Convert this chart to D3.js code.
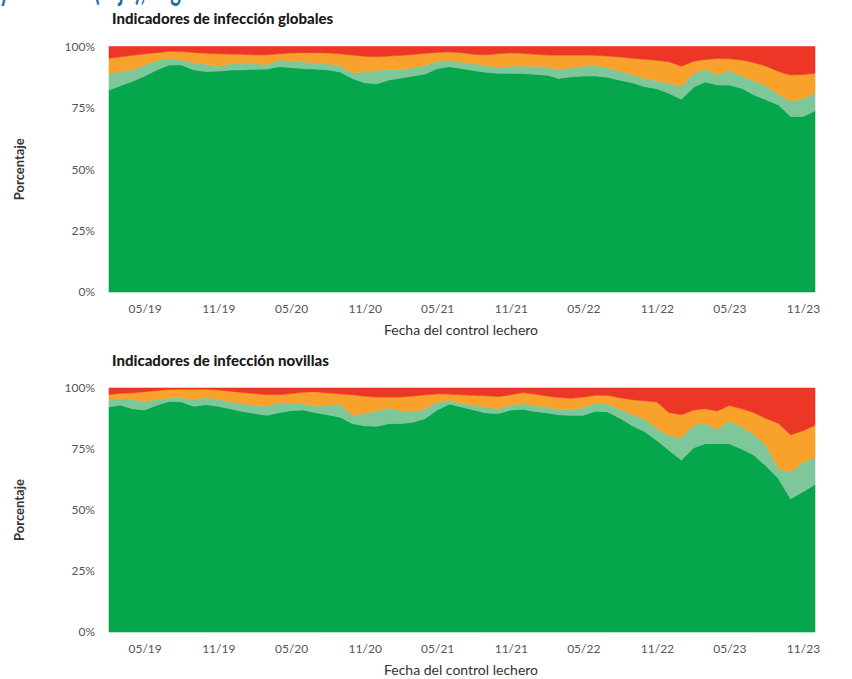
<!DOCTYPE html>
<html>
<head>
<meta charset="utf-8">
<script src="https://cdn.jsdelivr.net/npm/d3@7"></script>
<style>
  html, body { margin: 0; padding: 0; background: #fff; }
  svg { display: block; }
</style>
</head>
<body>
<script>
// ---------- DATA ----------
// Monthly milk-control dates, Feb 2019 .. Dec 2023 (59 months)
const startMonth = "2019-02";
const monthCount = 59;
const seriesKeys = ["sanas", "nuevas", "cronicas", "curadas"];
const seriesColors = ["#06a64c", "#7dc79a", "#f8a22c", "#ec3726"];
const yTickLabels = ["0%", "25%", "50%", "75%", "100%"];
const yTickValues = [0, 25, 50, 75, 100];
const xTickDates = ["2019-05", "2019-11", "2020-05", "2020-11", "2021-05", "2021-11", "2022-05", "2022-11", "2023-05", "2023-11"];

// Global (top chart) shares, %
const globalSanas = [82.3,84,85.8,88,90.5,92.5,92.5,90.5,89.8,90,90.4,90.5,90.7,90.8,91.8,91.4,91,90.8,90.5,89.6,87,85.2,84.8,86.4,87.2,88,88.8,91,91.8,91,90.2,89.5,89.1,89.1,89,88.7,88.3,87,87.7,88,88,87.5,86.3,85.2,83.7,82.8,81,78.5,83.5,85.5,84.4,84.3,83,80.3,78.3,76.2,71.5,71.5,73.8];
const globalNuevas = [6.7,5.7,4.7,4.5,3.8,2.7,2,3,3,2,2.6,3.1,2.5,1.8,2.7,2.8,2.7,2.6,2.5,2.6,2.3,4.4,5.5,4.3,3.3,3.3,3.5,3,2.5,2.6,2.8,2.7,2.5,2.9,3.1,3.3,3.2,3.7,3.6,4,4.4,3.8,3.7,3.3,3.3,3.2,4,5.3,5.5,5.3,4.1,5.9,5,5.7,5.7,4.3,6.1,7.3,7.2];
const globalCronicas = [6.2,6.1,5.9,4.5,3.2,2.9,3.5,4.1,4.5,5,3.9,3.2,3.4,4,2.5,3.2,3.8,4.1,4.4,4.8,7.2,6.4,5.5,5.4,5.9,5.4,4.9,3.6,3.5,3.9,3.8,4.4,5.5,5.4,5.1,4.8,5,5.8,5.2,4.5,4,4.8,5.7,6.7,7.8,8.4,8.8,8.2,5,3.9,6.6,4.8,6.5,7.5,8,9.3,10.8,9.8,8.1];
const globalCuradas = [4.8,4.2,3.6,3,2.5,1.9,2,2.4,2.7,3,3.1,3.2,3.4,3.4,3,2.6,2.5,2.5,2.6,3,3.5,4,4.2,3.9,3.6,3.3,2.8,2.4,2.2,2.5,3.2,3.4,2.9,2.6,2.8,3.2,3.5,3.5,3.5,3.5,3.6,3.9,4.3,4.8,5.2,5.6,6.2,8,6,5.3,4.9,5,5.5,6.5,8,10.2,11.6,11.4,10.9];

// Heifers (bottom chart) shares, %
const novillasSanas = [92.2,93,91.5,91,93,94.5,94.3,92.5,93.2,92.5,91.5,90.4,89.5,88.8,89.9,90.8,91,89.9,89,88,85.4,84.5,84.3,85.4,85.4,86,87.5,91,93.4,92.2,91,89.8,89.6,91,91.3,90.4,89.8,89,88.8,88.8,90.5,90.2,87.6,84.5,82.2,78.5,74.5,70.5,75.5,77.2,77.2,77.2,75,72.5,68,62.8,54.6,57.5,60.5];
const novillasNuevas = [2.8,2.7,3.8,3.6,2.3,1.5,1.9,2.7,2.9,2.9,2.9,3.2,3.3,3.8,4.1,3.2,2.6,2.7,4,5.3,3.5,5.1,6.3,6.4,5.1,4.3,4,3.3,1.6,1.5,2,2.2,1.9,2,2.4,2.4,2.3,2.2,2.2,3.2,3.2,3.3,3.7,4.5,5.1,5,6,9,9.3,8.3,5.8,9.3,9,8.5,8.5,4.1,11,12,11];
const novillasCronicas = [2.3,2.1,2.8,3.9,3.7,3.4,3.3,4.3,3.4,3.8,4.3,4.6,4.9,4.7,3.3,3.7,4.7,5.9,5,4.3,8.3,7,5.7,4.5,5.8,6.4,5.7,3.3,2.5,3.5,4,4.8,5,4.2,4.5,4.7,4.5,4.9,4.8,4.3,3.3,3.5,4.7,6.2,7.5,10.8,9.5,9.5,6.2,6,7.6,6.3,7.5,9,11,18.6,15.2,13,13.2];
const novillasCuradas = [2.7,2.2,1.9,1.5,1,0.6,0.5,0.5,0.5,0.8,1.3,1.8,2.3,2.7,2.7,2.3,1.7,1.5,2,2.4,2.8,3.4,3.7,3.7,3.7,3.3,2.8,2.4,2.5,2.8,3,3.2,3.5,2.8,1.8,2.5,3.4,3.9,4.2,3.7,3,3,4,4.8,5.2,5.7,10,11,9,8.5,9.4,7.2,8.5,10,12.5,14.5,19.2,17.5,15.3];

const titles = ["Indicadores de infección globales", "Indicadores de infección novillas"];
const xAxisTitle = "Fecha del control lechero";
const yAxisTitle = "Porcentaje";
const headerFragment = "y crónicas (rojo), según";

// ---------- BUILD ----------
const parseMonth = d3.timeParse("%Y-%m");
const dates = d3.range(monthCount).map(i => d3.timeMonth.offset(parseMonth(startMonth), i));

function buildRows(a, b, c, d) {
  return dates.map((date, i) => ({ date, sanas: a[i], nuevas: b[i], cronicas: c[i], curadas: d[i] }));
}
const panels = [
  { title: titles[0], rows: buildRows(globalSanas, globalNuevas, globalCronicas, globalCuradas), top: 46.5, bottom: 292, titleY: 24 },
  { title: titles[1], rows: buildRows(novillasSanas, novillasNuevas, novillasCronicas, novillasCuradas), top: 388, bottom: 632, titleY: 366 }
];

const W = 852, H = 679;
const left = 108, right = 816;
const fontFam = "Lato, 'Open Sans', 'DejaVu Sans', sans-serif";

const svg = d3.select("body").append("svg").attr("width", W).attr("height", H);

// page header above the figure, cut off by the top edge as in the source image
svg.append("text")
  .attr("x", -1).attr("y", 0)
  .attr("font-family", fontFam).attr("font-weight", 700).attr("font-size", 34)
  .attr("textLength", 205).attr("lengthAdjust", "spacingAndGlyphs")
  .attr("fill", "#1f6db3")
  .text(headerFragment);

const x = d3.scaleTime()
  .domain([dates[0], dates[dates.length - 1]])
  .range([left + 1, right - 1]);

const stack = d3.stack().keys(seriesKeys).offset(d3.stackOffsetExpand);

panels.forEach(p => {
  const y = d3.scaleLinear().domain([0, 1]).range([p.bottom, p.top]);
  const yPct = d3.scaleLinear().domain([0, 100]).range([p.bottom, p.top]);
  const g = svg.append("g");

  g.append("text")
    .attr("x", 112).attr("y", p.titleY)
    .attr("font-family", fontFam).attr("font-weight", 900).attr("font-size", 15)
    .attr("fill", "#1a1a1a")
    .text(p.title);

  const layers = stack(p.rows);
  const area = d3.area()
    .x(d => x(d.data.date))
    .y0(d => y(d[0]))
    .y1(d => y(d[1]))
    .curve(d3.curveLinear);

  g.append("g").selectAll("path")
    .data(layers)
    .join("path")
    .attr("d", area)
    .attr("fill", (d, i) => seriesColors[i])
    .attr("stroke", (d, i) => seriesColors[i])
    .attr("stroke-width", 0.6);

  // y axis
  const yAxis = d3.axisLeft(yPct)
    .tickValues(yTickValues)
    .tickFormat((d, i) => yTickLabels[i])
    .tickSize(0).tickPadding(0);
  const ya = g.append("g").attr("transform", `translate(95,0)`).call(yAxis);
  ya.select(".domain").remove();
  ya.selectAll("text")
    .attr("font-family", fontFam).attr("font-size", 12).attr("fill", "#555");

  // x axis
  const xAxis = d3.axisBottom(x)
    .tickValues(xTickDates.map(parseMonth))
    .tickFormat(d3.timeFormat("%m/%y"))
    .tickSize(0).tickPadding(0);
  const xa = g.append("g").attr("transform", `translate(0,${p.bottom + 12})`).call(xAxis);
  xa.select(".domain").remove();
  xa.selectAll("text")
    .attr("font-family", fontFam).attr("font-size", 12).attr("fill", "#555");

  g.append("text")
    .attr("x", 461).attr("y", p.bottom + 43)
    .attr("text-anchor", "middle")
    .attr("font-family", fontFam).attr("font-size", 14).attr("fill", "#333")
    .text(xAxisTitle);

  g.append("text")
    .attr("transform", `translate(24,${(p.top + p.bottom) / 2}) rotate(-90)`)
    .attr("text-anchor", "middle")
    .attr("font-family", fontFam).attr("font-size", 13).attr("font-weight", 700).attr("fill", "#333")
    .text(yAxisTitle);
});
</script>
</body>
</html>
